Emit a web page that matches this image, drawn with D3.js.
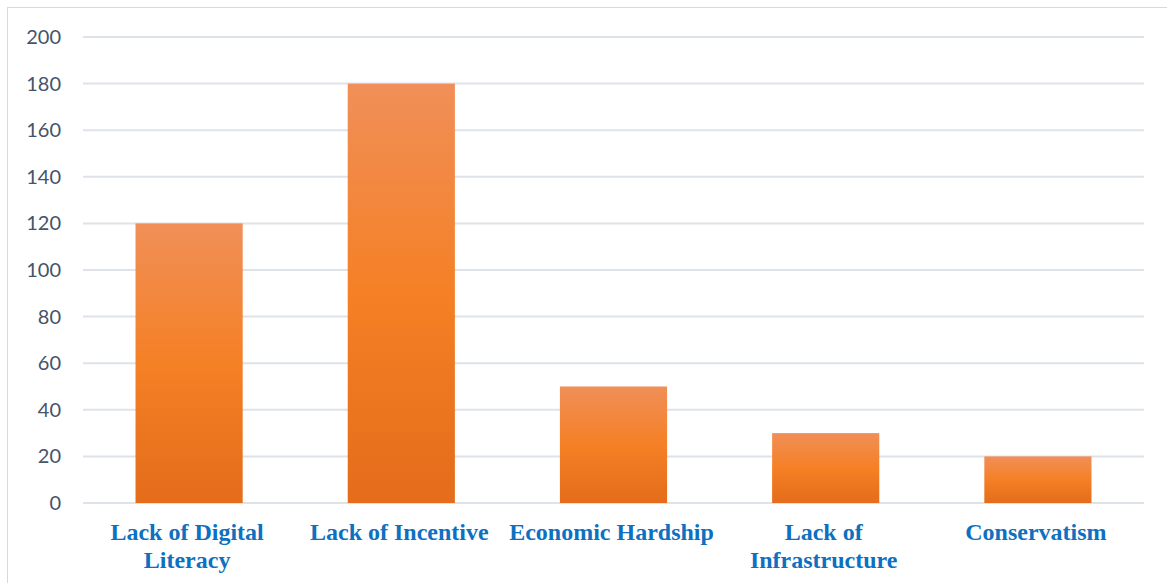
<!DOCTYPE html>
<html>
<head>
<meta charset="utf-8">
<script src="https://cdn.jsdelivr.net/npm/d3@7"></script>
<style>
  html, body { margin: 0; padding: 0; background: #fff; }
  svg { display: block; }
</style>
</head>
<body>
<svg></svg>
<script>
/*
*  DATA
*/
let categories = ['Lack of Digital Literacy', 'Lack of Incentive', 'Economic Hardship', 'Lack of Infrastructure', 'Conservatism']
let values = [120, 180, 50, 30, 20]
let yTicks = [0, 20, 40, 60, 80, 100, 120, 140, 160, 180, 200]

/*
*  RUN
*/
let width = 1167,
    height = 583,
    margin = {top: 37, right: 23, bottom: 80, left: 83}

let svg = d3.select('svg').attr('width', width).attr('height', height)

// outer frame (only top + left visible in the reference)
svg.append('rect')
  .attr('x', 7.5).attr('y', 7.5)
  .attr('width', width).attr('height', height)
  .attr('fill', 'none')
  .attr('stroke', '#D9D9D9')
  .attr('stroke-width', 1)

let x = d3.scaleBand()
  .domain(categories)
  .range([margin.left, width - margin.right])
  .paddingInner(0.495)
  .paddingOuter(0.2475)

let y = d3.scaleLinear()
  .domain([0, 200])
  .range([height - margin.bottom, margin.top])

// gradient for the bars
let grad = svg.append('defs').append('linearGradient')
  .attr('id', 'barGrad')
  .attr('x1', 0).attr('y1', 0).attr('x2', 0).attr('y2', 1)
grad.append('stop').attr('offset', '0%').attr('stop-color', '#F08F58')
grad.append('stop').attr('offset', '50%').attr('stop-color', '#F58025')
grad.append('stop').attr('offset', '100%').attr('stop-color', '#E46C1B')

// grid lines
svg.append('g').attr('class', 'grid')
  .selectAll('line')
  .data(yTicks)
  .enter()
  .append('line')
  .attr('x1', margin.left)
  .attr('x2', width - margin.right)
  .attr('y1', d => y(d))
  .attr('y2', d => y(d))
  .attr('stroke', '#DEE2E9')
  .attr('stroke-width', 2)

// y labels
svg.append('g').attr('class', 'ylabels')
  .selectAll('text')
  .data(yTicks)
  .enter()
  .append('text')
  .attr('x', 61)
  .attr('y', d => y(d))
  .attr('dy', '0.35em')
  .attr('text-anchor', 'end')
  .attr('font-family', 'Lato, "Open Sans", sans-serif')
  .attr('font-size', 20)
  .attr('fill', '#44546A')
  .text(d => d)

// bars
svg.append('g').attr('class', 'bars')
  .selectAll('rect')
  .data(values)
  .enter()
  .append('rect')
  .attr('x', (d, i) => x(categories[i]))
  .attr('width', x.bandwidth())
  .attr('y', d => y(d))
  .attr('height', d => y(0) - y(d))
  .attr('fill', 'url(#barGrad)')

// x labels, wrapped to the band width
let xl = svg.append('g').attr('class', 'xlabels')
categories.forEach(c => {
  let cx = x(c) + x.bandwidth() / 2 - 2
  let t = xl.append('text')
    .attr('text-anchor', 'middle')
    .attr('font-family', '"Liberation Serif", "Times New Roman", serif')
    .attr('font-weight', 'bold')
    .attr('font-size', 24)
    .attr('fill', '#0E70C0')
  let words = c.split(' '), line = [], lineNo = 0
  let ts = t.append('tspan').attr('x', cx).attr('y', 540)
  words.forEach(w => {
    line.push(w)
    ts.text(line.join(' '))
    if (ts.node().getComputedTextLength() > x.step() - 2 && line.length > 1) {
      line.pop()
      ts.text(line.join(' '))
      line = [w]
      lineNo++
      ts = t.append('tspan').attr('x', cx).attr('y', 540 + lineNo * 28).text(w)
    }
  })
})
</script>
</body>
</html>
